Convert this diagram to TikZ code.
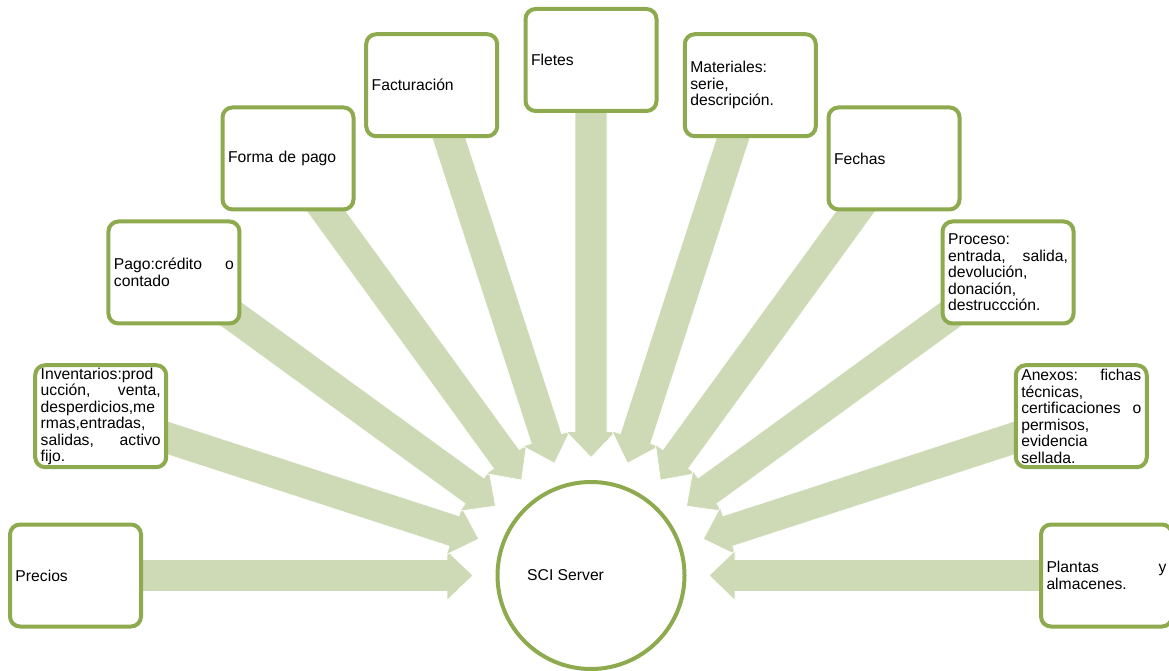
\documentclass[tikz,border=0pt]{standalone}
\usepackage{fontspec}
\setmainfont{Liberation Sans}
\usetikzlibrary{calc}
\definecolor{boxgreen}{HTML}{8EAA4F}
\definecolor{arrowgreen}{HTML}{CDDAB5}
\pgfdeclarelayer{bg}
\pgfsetlayers{bg,main}
\newcommand\J[2]{\makebox[120pt][l]{#1\hfill#2}}
\newcommand\barrow[2]{%
 \filldraw[bigarrow] ($(srv.center)+(#2:118pt)$)
   -- ($(srv.center)+(#2:144pt)+(#2+90:25pt)$)
   -- ($(srv.center)+(#2:144pt)+(#2+90:16pt)$)
   -- ($(#1.center)+(#2+90:16pt)$)
   -- ($(#1.center)+(#2-90:16pt)$)
   -- ($(srv.center)+(#2:144pt)+(#2-90:16pt)$)
   -- ($(srv.center)+(#2:144pt)+(#2-90:25pt)$) -- cycle;}
\begin{document}
\begin{tikzpicture}[x=1pt,y=1pt,
  box/.style={draw=boxgreen, line width=4pt, fill=white, rounded corners=10pt,
    minimum width=131pt, minimum height=102pt, text width=120pt,
    inner xsep=5.5pt, inner ysep=1pt, align=left,
    font=\fontsize{15.7}{16.5}\selectfont},
  bigarrow/.style={fill=arrowgreen, draw=white, line width=0.8pt}]
\useasboundingbox (0,0) rectangle (1169,670);
\node[circle, draw=boxgreen, line width=4pt, fill=white, minimum size=187pt, inner sep=0pt] (srv) at (591,94.5) {};
\node[anchor=west, inner sep=0pt, font=\fontsize{15.7}{16.5}\selectfont] (srvtext) at (527,94.5) {SCI Server};
\node[box] (precios) at ($(srv.center)+(180:515.5pt)$) {Precios};
\node[box] (invent) at ($(srv.center)+(162:515.5pt)$) {Inventarios:prod\\\J{ucción,}{venta,}\\desperdicios,me\\rmas,entradas,\\\J{salidas,}{activo}\\fijo.};
\node[box] (pago) at ($(srv.center)+(144:515.5pt)$) {\J{Pago:crédito}{o}\\contado};
\node[box] (forma) at ($(srv.center)+(126:515.5pt)$) {Forma de pago};
\node[box] (factura) at ($(srv.center)+(108:515.5pt)$) {Facturación};
\node[box] (fletes) at ($(srv.center)+(90:515.5pt)$) {Fletes};
\node[box] (mater) at ($(srv.center)+(72:515.5pt)$) {Materiales:\\serie,\\descripción.};
\node[box] (fechas) at ($(srv.center)+(54:515.5pt)$) {Fechas};
\node[box] (proceso) at ($(srv.center)+(36:515.5pt)$) {Proceso:\\\J{entrada,}{salida,}\\devolución,\\donación,\\destruccción.};
\node[box] (anexos) at ($(srv.center)+(18:515.5pt)$) {\J{Anexos:}{fichas}\\técnicas,\\\J{certificaciones}{o}\\permisos,\\evidencia\\sellada.};
\node[box] (plantas) at ($(srv.center)+(0:515.5pt)$) {\J{Plantas}{y}\\almacenes.};
\begin{pgfonlayer}{bg}
\fill[white] (0,0) rectangle (1169,670);
\barrow{precios}{180}
\barrow{invent}{162}
\barrow{pago}{144}
\barrow{forma}{126}
\barrow{factura}{108}
\barrow{fletes}{90}
\barrow{mater}{72}
\barrow{fechas}{54}
\barrow{proceso}{36}
\barrow{anexos}{18}
\barrow{plantas}{0}
\end{pgfonlayer}
\end{tikzpicture}
\end{document}
